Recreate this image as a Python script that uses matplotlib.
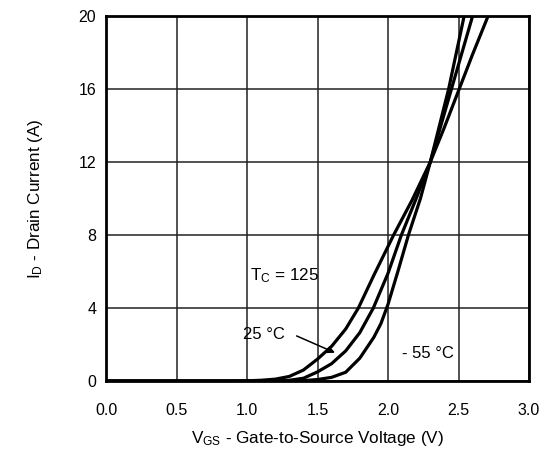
import matplotlib
matplotlib.use("Agg")
import matplotlib.pyplot as plt

plt.rcParams['font.family'] = ['Liberation Sans', 'DejaVu Sans']
plt.rcParams['mathtext.fontset'] = 'custom'
plt.rcParams['mathtext.rm'] = 'Liberation Sans'
plt.rcParams['mathtext.it'] = 'Liberation Sans'

# Transfer characteristics data
vgs_125 = [0.0, 0.9, 1.0, 1.1, 1.2, 1.3, 1.4, 1.5, 1.6, 1.7, 1.79, 1.9, 2.04, 2.17, 2.3, 2.4, 2.5, 2.6, 2.71, 2.75]
id_125 = [0.0, 0.0, 0.01, 0.04, 0.1, 0.25, 0.6, 1.2, 1.9, 2.85, 4.0, 5.8, 8.0, 9.9, 12.0, 13.9, 15.9, 17.9, 20.0, 20.8]

vgs_25 = [0.0, 1.1, 1.2, 1.3, 1.4, 1.5, 1.6, 1.7, 1.8, 1.896, 2.0, 2.095, 2.2, 2.3, 2.45, 2.6, 2.65]
id_25 = [0.0, 0.0, 0.01, 0.04, 0.15, 0.5, 0.95, 1.65, 2.65, 4.0, 5.9, 8.0, 10.0, 12.0, 16.0, 20.0, 21.3]

vgs_m55 = [0.0, 1.3, 1.4, 1.5, 1.6, 1.7, 1.8, 1.9, 1.95, 2.0, 2.07, 2.145, 2.23, 2.3, 2.43, 2.54, 2.6]
id_m55 = [0.0, 0.0, 0.02, 0.08, 0.2, 0.48, 1.25, 2.4, 3.15, 4.2, 6.0, 8.0, 10.0, 12.0, 16.0, 20.0, 22.2]

x_ticks = [0.0, 0.5, 1.0, 1.5, 2.0, 2.5, 3.0]
y_ticks = [0, 4, 8, 12, 16, 20]

fig = plt.figure(figsize=(5.48, 4.55), dpi=100)
ax = fig.add_axes([106/548, 1-381/455, (529-106)/548, (381-16)/455])

for v, i in [(vgs_125, id_125), (vgs_25, id_25), (vgs_m55, id_m55)]:
    ax.plot(v, i, color='black', lw=2.3, solid_capstyle='round',
            solid_joinstyle='round', zorder=3)

ax.set_xlim(0, 3)
ax.set_ylim(0, 20)
ax.set_xticks(x_ticks)
ax.set_xticklabels([f"{t:.1f}" for t in x_ticks])
ax.set_yticks(y_ticks)
ax.set_yticklabels([str(t) for t in y_ticks])
ax.grid(True, color='#222222', lw=1.1)
ax.set_axisbelow(True)
ax.tick_params(length=0, labelsize=11.5)
ax.tick_params(axis='x', pad=16)
ax.tick_params(axis='y', pad=7)
for s in ax.spines.values():
    s.set_linewidth(2.0)

ax.set_xlabel(r'V$_\mathrm{GS}$ - Gate-to-Source Voltage (V)', fontsize=12.3, labelpad=8)
ax.set_ylabel(r'I$_\mathrm{D}$ - Drain Current (A)', fontsize=12.3, labelpad=24)

ax.text(1.02, 5.5, r'T$_\mathrm{C}$ = 125', fontsize=12.3, va='baseline', ha='left')
ax.text(0.97, 2.3, '25 °C', fontsize=12, va='baseline', ha='left')
ax.text(2.10, 1.26, '- 55 °C', fontsize=12, va='baseline', ha='left')
ax.annotate('', xy=(1.624, 1.55), xytext=(1.352, 2.47),
            arrowprops=dict(arrowstyle='-|>', color='black', lw=1.1,
                            mutation_scale=10, shrinkA=0, shrinkB=0), zorder=4)

fig.savefig('out.png', dpi=100)
